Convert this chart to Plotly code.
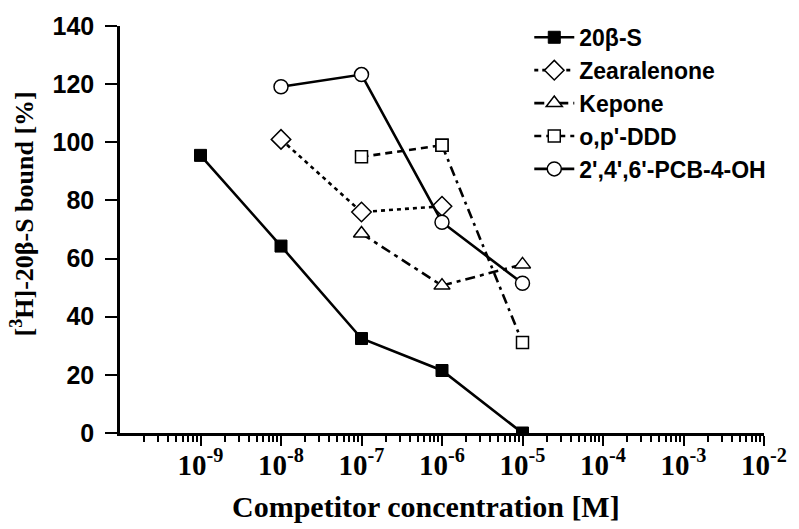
import plotly.graph_objects as go

s20b_x = [1e-9, 1e-8, 1e-7, 1e-6, 1e-5]
s20b_y = [95.5, 64.3, 32.5, 21.5, 0]
zea_x = [1e-8, 1e-7, 1e-6]
zea_y = [101, 76, 78]
kep_x = [1e-7, 1e-6, 1e-5]
kep_y = [68.6, 50.7, 58]
ddd_x = [1e-7, 1e-6, 1e-5]
ddd_y = [95, 99, 31.1]
pcb_x = [1e-8, 1e-7, 1e-6, 1e-5]
pcb_y = [119.1, 123.3, 72.5, 51.5]

xtick_vals = [1e-9, 1e-8, 1e-7, 1e-6, 1e-5, 1e-4, 1e-3, 1e-2]
xtick_text = ["10<sup>-9</sup>", "10<sup>-8</sup>", "10<sup>-7</sup>", "10<sup>-6</sup>",
              "10<sup>-5</sup>", "10<sup>-4</sup>", "10<sup>-3</sup>", "10<sup>-2</sup>"]
ytick_vals = [0, 20, 40, 60, 80, 100, 120, 140]

minor_vals = [k * 10.0 ** e for e in range(-10, -2) for k in range(2, 10)]

SANS = "Liberation Sans, Arial, sans-serif"
SERIF = "Liberation Serif, Times New Roman, serif"
LW = 2.6

fig = go.Figure()
fig.add_trace(go.Scatter(x=s20b_x, y=s20b_y, name="20β-S", mode="lines+markers",
                         line=dict(color="black", width=LW),
                         marker=dict(symbol="square", size=12, color="black",
                                     line=dict(color="black", width=1))))
fig.add_trace(go.Scatter(x=zea_x, y=zea_y, name="Zearalenone", mode="lines+markers",
                         line=dict(color="black", width=LW, dash="4px,4px"),
                         marker=dict(symbol="diamond", size=15, color="white",
                                     line=dict(color="black", width=1.5))))
fig.add_trace(go.Scatter(x=kep_x, y=kep_y, name="Kepone", mode="lines+markers",
                         line=dict(color="black", width=LW, dash="10px,5px,4px,5px"),
                         marker=dict(symbol="triangle-up", size=14, color="white",
                                     line=dict(color="black", width=1.5))))
fig.add_trace(go.Scatter(x=ddd_x[:2], y=ddd_y[:2], name="o,p'-DDD", mode="lines+markers",
                         legendgroup="ddd",
                         line=dict(color="black", width=LW, dash="7px,5px"),
                         marker=dict(symbol="square", size=12, color="white",
                                     line=dict(color="black", width=1.5))))
fig.add_trace(go.Scatter(x=ddd_x[1:], y=ddd_y[1:], name="o,p'-DDD", mode="lines+markers",
                         legendgroup="ddd", showlegend=False,
                         line=dict(color="black", width=LW, dash="10px,5px,3px,5px"),
                         marker=dict(symbol="square", size=12, color="white",
                                     line=dict(color="black", width=1.5))))
fig.add_trace(go.Scatter(x=pcb_x, y=pcb_y, name="2',4',6'-PCB-4-OH", mode="lines+markers",
                         line=dict(color="black", width=LW),
                         marker=dict(symbol="circle", size=14, color="white",
                                     line=dict(color="black", width=1.5))))

fig.update_layout(
    width=799, height=529,
    margin=dict(l=120, r=26, t=22, b=96),
    paper_bgcolor="white", plot_bgcolor="white",
    showlegend=True,
    legend=dict(x=(535 - 120) / 653, y=1.025, xanchor="left", yanchor="top",
                font=dict(family=SANS, size=23, color="black", weight=700),
                bgcolor="rgba(0,0,0,0)", itemwidth=40, tracegroupgap=0),
    xaxis=dict(type="log", range=[-10, -2], showgrid=False, zeroline=False,
               showline=True, linecolor="black", linewidth=2.5,
               tickvals=xtick_vals, ticktext=xtick_text,
               ticks="outside", ticklen=10, tickwidth=2, tickcolor="black",
               ticklabelstandoff=-6,
               tickfont=dict(family=SERIF, size=29, color="black", weight=700),
               minor=dict(tickvals=minor_vals, ticks="outside", ticklen=6,
                          tickwidth=1.5, tickcolor="black", showgrid=False)),
    yaxis=dict(range=[0, 140], showgrid=False, zeroline=False,
               showline=True, linecolor="black", linewidth=2.5,
               tickvals=ytick_vals, ticks="outside", ticklen=12, tickwidth=2,
               tickcolor="black", ticklabelstandoff=6,
               tickfont=dict(family=SANS, size=25, color="black", weight=700)),
    annotations=[
        dict(text="Competitor concentration [M]", xref="paper", yref="paper",
             x=(430 - 120) / 653, y=-(507 - 433) / 411, xanchor="center", yanchor="middle",
             showarrow=False, font=dict(family=SERIF, size=30, color="black", weight=700)),
        dict(text="[<sup>3</sup>H]-20β-S bound [%]", xref="paper", yref="paper",
             x=(21 - 120) / 653, y=(433 - 212) / 411, xanchor="center", yanchor="middle",
             textangle=-90, showarrow=False,
             font=dict(family=SERIF, size=26, color="black", weight=700)),
    ],
)

fig.write_html("out.html")
